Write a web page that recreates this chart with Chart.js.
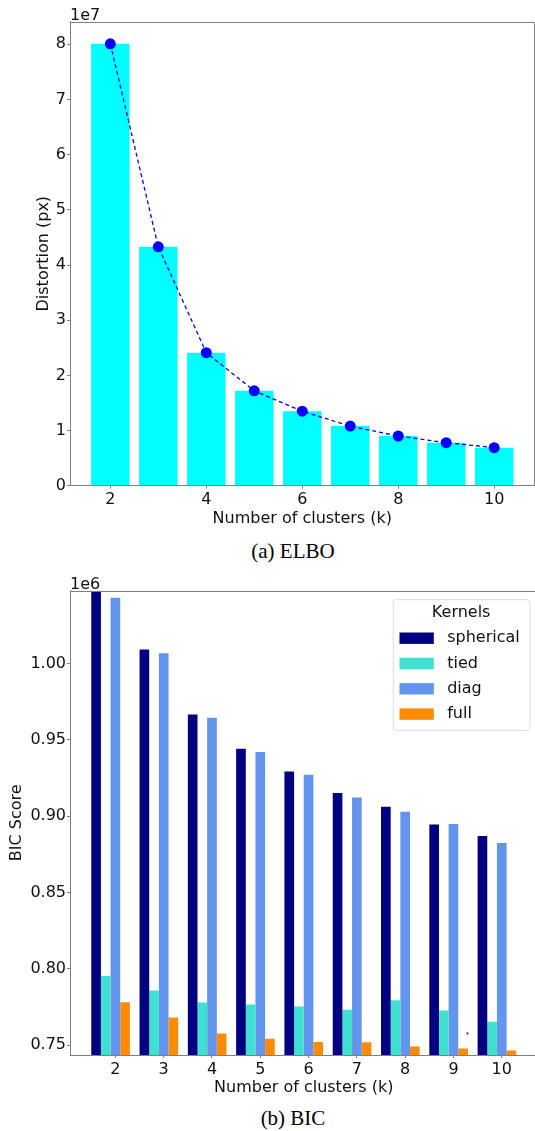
<!DOCTYPE html>
<html>
<head>
<meta charset="utf-8">
<title>ELBO and BIC</title>
<script src="https://cdn.jsdelivr.net/npm/chart.js@4.4.1/dist/chart.umd.min.js"></script>
<style>
  html, body { margin: 0; padding: 0; background: #fff; overflow: hidden; }
  body { position: relative; width: 535px; height: 1131px; }
  canvas { position: absolute; left: 0; }
  #elbo { top: 0; }
  #bic { top: 560px; }
  .caption {
    position: absolute; left: 0; width: 586px; text-align: center;
    font-family: 'Liberation Serif', 'Times New Roman', serif;
    font-size: 21px; line-height: 24px; color: #000;
  }
</style>
</head>
<body>
<canvas id="elbo" width="540" height="535"></canvas>
<div class="caption" style="top:539px">(a) ELBO</div>
<canvas id="bic" width="540" height="540"></canvas>
<div class="caption" style="top:1106px">(b) BIC</div>

<script>
// ---- data: (a) ELBO ----
const elboK = [2, 3, 4, 5, 6, 7, 8, 9, 10];
const elboDistortion = [8.01e7, 4.33e7, 2.41e7, 1.72e7, 1.35e7, 1.08e7, 0.90e7, 0.78e7, 0.69e7];
const elboXTicks = [2, 4, 6, 8, 10];
const elboYTicks = [0, 1e7, 2e7, 3e7, 4e7, 5e7, 6e7, 7e7, 8e7];

// ---- data: (b) BIC ----
const bicK = [2, 3, 4, 5, 6, 7, 8, 9, 10];
const kernelNames = ["spherical", "tied", "diag", "full"];
const bicSpherical = [1.0478e6, 1.0092e6, 0.9666e6, 0.9442e6, 0.9293e6, 0.9152e6, 0.9062e6, 0.8946e6, 0.8870e6];
const bicTied = [0.7952e6, 0.7858e6, 0.7779e6, 0.7766e6, 0.7753e6, 0.7732e6, 0.7793e6, 0.7727e6, 0.7653e6];
const bicDiag = [1.0432e6, 1.0068e6, 0.9645e6, 0.9420e6, 0.9272e6, 0.9123e6, 0.9029e6, 0.8949e6, 0.8825e6];
const bicFull = [0.7781e6, 0.7681e6, 0.7575e6, 0.7542e6, 0.7520e6, 0.7518e6, 0.7491e6, 0.7478e6, 0.7465e6];
const bicSeries = [bicSpherical, bicTied, bicDiag, bicFull];
const bicXTicks = [2, 3, 4, 5, 6, 7, 8, 9, 10];
const bicYTicks = [0.75e6, 0.80e6, 0.85e6, 0.90e6, 0.95e6, 1.00e6];

const FONT = "'DejaVu Sans', sans-serif";
const SPINE = "#808080";
const INK = "#111";
const kernelColors = ["#000080", "#40e0d0", "#6495ed", "#ff8c00"];

// draws top/right spines, the 1eN offset text, the legend box and the "*" mark
const axisExtras = {
	id: "axisExtras",
	afterDraw(chart, args, opts) {
		const { ctx, chartArea: a } = chart;
		ctx.save();
		ctx.strokeStyle = SPINE;
		ctx.lineWidth = 1;
		ctx.beginPath();
		const top = Math.round(a.top) + 0.5;
		ctx.moveTo(a.left, top);
		ctx.lineTo(a.right, top);
		ctx.lineTo(a.right, a.bottom);
		ctx.stroke();

		ctx.fillStyle = INK;
		ctx.font = `16px ${FONT}`;
		ctx.textAlign = "left";
		ctx.textBaseline = "alphabetic";
		if (opts.offsetText) ctx.fillText(opts.offsetText, a.left, a.top - 2);

		if (opts.star) {
			const sx = chart.scales.x.getPixelForValue(opts.star.x);
			const sy = chart.scales.y.getPixelForValue(opts.star.y);
			ctx.font = `7px ${FONT}`;
			ctx.fillText("*", sx, sy);
		}

		if (opts.legend) {
			const w = 136.7, h = 130.7;
			const lx = a.right - 8 - w, ly = a.top + 8.5;
			ctx.fillStyle = "rgba(255,255,255,0.8)";
			ctx.strokeStyle = "#dcdcdc";
			ctx.beginPath();
			ctx.roundRect(lx + 0.5, ly + 0.5, w, h, 3);
			ctx.fill();
			ctx.stroke();

			ctx.font = `16px ${FONT}`;
			ctx.fillStyle = INK;
			ctx.textAlign = "center";
			ctx.textBaseline = "middle";
			ctx.fillText(opts.legend.title, lx + w / 2, ly + 14);

			ctx.textAlign = "left";
			chart.data.datasets.forEach((ds, i) => {
				const cy = ly + 39 + i * 25.3;
				ctx.fillStyle = ds.backgroundColor;
				ctx.fillRect(lx + 6.7, cy - 5.7, 34.3, 11.4);
				ctx.fillStyle = INK;
				ctx.fillText(ds.label, lx + 54.4, cy);
			});
		}
		ctx.restore();
	},
};

function xAxis(min, max, tickValues, height, titlePad) {
	return {
		type: "linear",
		min: min,
		max: max,
		offset: false,
		ticks: {
			color: INK,
			padding: 2,
			maxRotation: 0,
			font: { family: FONT, size: 16 },
		},
		afterBuildTicks(scale) {
			scale.ticks = tickValues.map((v) => ({ value: v }));
		},
		grid: { drawOnChartArea: false, offset: false, tickLength: 3, color: SPINE },
		border: { color: SPINE, width: 1 },
		title: {
			display: true,
			text: "Number of clusters (k)",
			color: INK,
			font: { family: FONT, size: 16 },
			padding: { top: 0, bottom: titlePad },
		},
		afterFit(scale) {
			scale.height = height;
		},
	};
}

function yAxis(min, max, tickValues, label, titlePad, fmt) {
	return {
		min: min,
		max: max,
		ticks: {
			color: INK,
			padding: 1,
			font: { family: FONT, size: 16 },
			callback: fmt,
		},
		afterBuildTicks(scale) {
			scale.ticks = tickValues.map((v) => ({ value: v }));
		},
		grid: { drawOnChartArea: false, tickLength: 3, color: SPINE },
		border: { color: SPINE, width: 1 },
		title: {
			display: true,
			text: label,
			color: INK,
			font: { family: FONT, size: 16 },
			padding: { top: titlePad, bottom: 0 },
		},
		afterFit(scale) {
			scale.width = 70;
		},
	};
}

// ---- (a) ELBO chart ----
const elboPoints = elboK.map((k, i) => ({ x: k, y: elboDistortion[i] }));

new Chart(document.getElementById("elbo"), {
	type: "bar",
	data: {
		datasets: [
			{
				type: "line",
				data: elboPoints,
				borderColor: "#0000ff",
				borderWidth: 1.3,
				borderDash: [4, 3],
				tension: 0,
				pointRadius: 5.5,
				pointBackgroundColor: "#0000ff",
				pointBorderWidth: 0,
				order: 0,
			},
			{
				type: "bar",
				data: elboPoints,
				backgroundColor: "#00ffff",
				categoryPercentage: 0.8,
				barPercentage: 1,
				order: 1,
			},
		],
	},
	options: {
		responsive: false,
		animation: false,
		layout: { padding: { top: 21.7, right: 2.5, bottom: 0, left: 0 } },
		plugins: {
			legend: { display: false },
			tooltip: { enabled: false },
			axisExtras: { offsetText: "1e7" },
		},
		scales: {
			x: xAxis(1.16, 10.84, elboXTicks, 49.3, 6.5),
			y: yAxis(0, 8.41e7, elboYTicks, "Distortion (px)", 34.4, (v) => v / 1e7),
		},
	},
	plugins: [axisExtras],
});

// ---- (b) BIC chart ----
const groupShift = -0.1; // bars of one k sit at k-0.4 .. k+0.2
const bicMin = Math.min(...bicSeries.flat());
const bicMax = Math.max(...bicSeries.flat());

new Chart(document.getElementById("bic"), {
	type: "bar",
	data: {
		datasets: kernelNames.map((name, j) => ({
			label: name,
			data: bicK.map((k, i) => ({ x: k + groupShift, y: bicSeries[j][i] })),
			backgroundColor: kernelColors[j],
			categoryPercentage: 0.8,
			barPercentage: 1,
		})),
	},
	options: {
		responsive: false,
		animation: false,
		layout: { padding: { top: 30.7, right: 2.5, bottom: 0, left: 0 } },
		plugins: {
			legend: { display: false },
			tooltip: { enabled: false },
			axisExtras: {
				offsetText: "1e6",
				legend: { title: "Kernels" },
				star: { x: 9.25, y: bicMin * 0.97 + 0.03 * bicMax },
			},
		},
		scales: {
			x: xAxis(1.06, 10.74, bicXTicks, 45, 2.5),
			y: yAxis(bicMin * 1.01 - 0.01 * bicMax, bicMax, bicYTicks, "BIC Score", 7.4,
				(v) => (v / 1e6).toFixed(2)),
		},
	},
	plugins: [axisExtras],
});
</script>
</body>
</html>
